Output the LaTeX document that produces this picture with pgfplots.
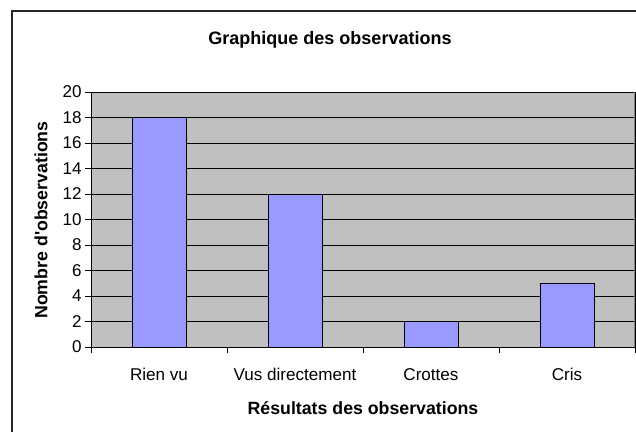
\documentclass[border=0pt]{standalone}
\usepackage{fontspec}
\setmainfont{Liberation Sans}
\usepackage{pgfplots}
\pgfplotsset{compat=1.18}
\definecolor{barblue}{HTML}{9999FF}
\definecolor{plotgray}{HTML}{C0C0C0}
\begin{document}
\begin{tikzpicture}
\useasboundingbox (-68.25pt,-63.75pt) rectangle (408.75pt,260.25pt);
\draw[line width=1.5pt, color=black!85] (-59.25pt,-70pt) -- (-59.25pt,252pt) -- (420pt,252pt);
\begin{axis}[
  at={(0pt,0pt)}, anchor=south west,
  scale only axis, width=408pt, height=191.25pt,
  xmin=-0.5, xmax=3.5, ymin=0, ymax=20,
  ytick={0,2,...,20},
  xtick={0,1,2,3},
  xticklabels={Rien vu, Vus directement, Crottes, Cris},
  minor xtick={-0.5,0.5,1.5,2.5,3.5},
  minor ytick={0,2,...,20},
  xtick pos=bottom, ytick pos=left,
  major tick length=0pt,
  minor tick length=4.5pt,
  tick align=outside,
  tick style={black, line width=0.6pt},
  ymajorgrids, grid style={black, line width=0.6pt},
  axis background/.style={fill=plotgray},
  axis line style={black, line width=0.6pt},
  /pgf/number format/assume math mode=true,
  tick label style={font=\fontsize{12.8}{15}\selectfont},
  xticklabel style={anchor=base, inner sep=0pt, yshift=-25pt},
  yticklabel style={anchor=east, inner sep=0pt, xshift=-6.75pt},
  ybar, bar width=40.5pt,
]
\addplot[fill=barblue, draw=black, line width=0.6pt] coordinates {(0,18) (1,12) (2,2) (3,5)};
\draw[gray, line width=0.8pt] (rel axis cs:1,0) -- (rel axis cs:1,1);
\end{axis}
\node[font=\bfseries\fontsize{13.5}{16}\selectfont] at (179.25pt,230.25pt) {Graphique des observations};
\node[font=\bfseries\fontsize{13.3}{16}\selectfont] at (204pt,-45.75pt) {Résultats des observations};
\node[font=\bfseries\fontsize{13.3}{16}\selectfont, rotate=90] at (-37.5pt,95.25pt) {Nombre d\textquotesingle observations};
\end{tikzpicture}
\end{document}
